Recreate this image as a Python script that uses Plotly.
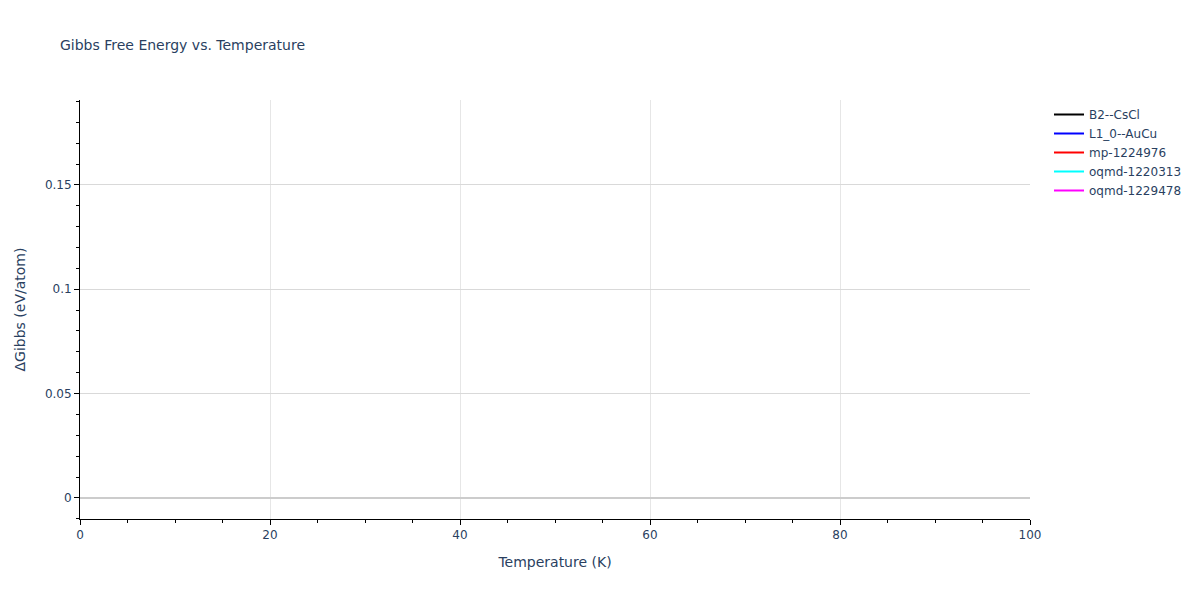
import plotly.graph_objects as go

# data: no point of any series falls inside the plotted window,
# so the curves only show up in the legend
phases = ["B2--CsCl", "L1_0--AuCu", "mp-1224976", "oqmd-1220313", "oqmd-1229478"]
colors = ["black", "blue", "red", "cyan", "magenta"]
temperature = [0, 100]
gibbs = {name: [None, None] for name in phases}

fig = go.Figure()
for name, color in zip(phases, colors):
    fig.add_trace(go.Scatter(x=temperature, y=gibbs[name], mode="lines",
                             name=name, line=dict(color=color)))

# page has an 8px body margin, so shift margins/title to line up with the window
fig.update_layout(
    template="plotly_white",
    title=dict(text="Gibbs Free Energy vs. Temperature", font=dict(size=14),
               x=0.0439, y=0.9366, xanchor="left", yanchor="middle"),
    font=dict(family="DejaVu Sans", size=12),
    plot_bgcolor="white",
    margin=dict(l=72, t=92, r=162, b=73, autoexpand=False),
)
fig.update_xaxes(title=dict(text="Temperature (K)", font=dict(size=14)),
                 range=[0, 100], dtick=20,
                 showline=True, linecolor="black", ticks="outside",
                 tickcolor="black", gridcolor="#e6e6e6", zeroline=False,
                 minor=dict(dtick=5, ticks="outside", tickcolor="black", showgrid=False))
fig.update_yaxes(title=dict(text="ΔGibbs (eV/atom)", font=dict(size=14)),
                 range=[-0.0101, 0.1907], dtick=0.05,
                 showline=True, linecolor="black", ticks="outside",
                 tickcolor="black", gridcolor="#d9d9d9",
                 zeroline=True, zerolinecolor="#cccccc", zerolinewidth=2,
                 minor=dict(dtick=0.01, ticks="outside", tickcolor="black", showgrid=False))

fig.write_html("out.html")
